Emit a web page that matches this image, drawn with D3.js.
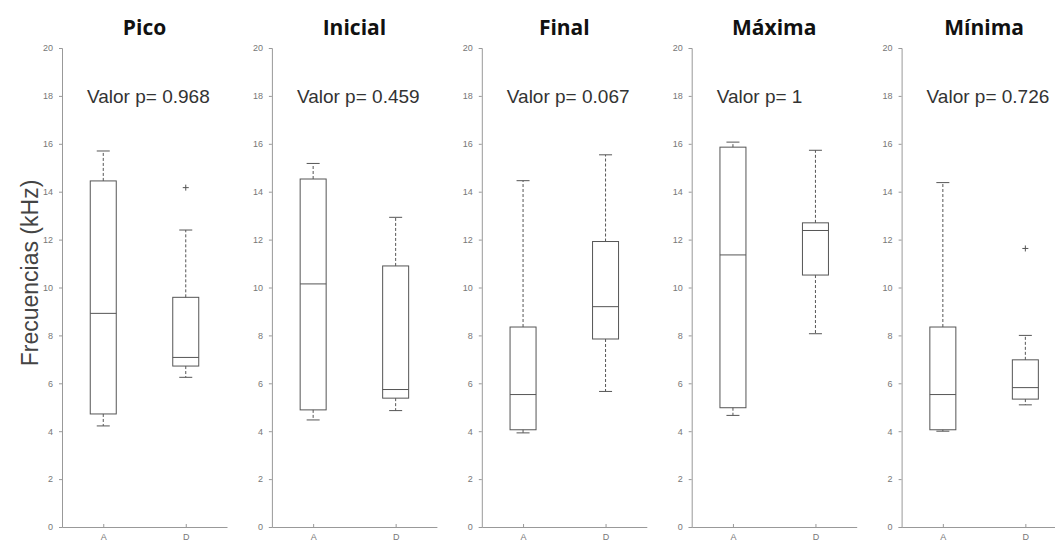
<!DOCTYPE html>
<html>
<head>
<meta charset="utf-8">
<script src="https://cdn.jsdelivr.net/npm/d3@7"></script>
<style>
  body { margin: 0; background: #fff; }
  svg { display: block; }
  .tick text { font-family: "Liberation Sans", Arial, sans-serif; fill: #777; }
</style>
</head>
<body>
<div id="chart"></div>
<script>
// Panel titles and p-value labels
const titles = ['Pico', 'Inicial', 'Final', 'Máxima', 'Mínima']
const pValues = ['0.968', '0.459', '0.067', '1', '0.726']
const groups = ['A', 'D']
const yTicks = [0, 2, 4, 6, 8, 10, 12, 14, 16, 18, 20]

// Box statistics per panel, [A, D]
const whiskerLow = [[4.22, 6.25], [4.47, 4.86], [3.93, 5.66], [4.66, 8.07], [4.0, 5.1]]
const q1 = [[4.72, 6.72], [4.89, 5.38], [4.06, 7.85], [4.98, 10.52], [4.06, 5.34]]
const median = [[8.92, 7.08], [10.15, 5.74], [5.53, 9.2], [11.36, 12.38], [5.53, 5.82]]
const q3 = [[14.45, 9.59], [14.53, 10.9], [8.35, 11.92], [15.86, 12.7], [8.35, 6.98]]
const whiskerHigh = [[15.7, 12.4], [15.18, 12.93], [14.46, 15.54], [16.07, 15.73], [14.38, 8.0]]
const outliers = [[[], [14.17]], [[], []], [[], []], [[], []], [[], [11.63]]]

const drawChart = () => {
  const width = 1055
  const height = 544
  const firstAxisX = 62
  const panelStep = 209.9
  const panelWidth = 165
  const top = 48
  const bottom = 527
  const boxWidth = 26
  const capWidth = 13
  const lineColor = '#555'

  const svg = d3.select('#chart')
    .append('svg')
    .attr('width', width)
    .attr('height', height)

  const y = d3.scaleLinear().domain([0, 20]).range([bottom, top])
  const x = d3.scalePoint().domain(groups).range([0, panelWidth]).padding(0.5)

  // Y axis label
  svg.append('text')
    .attr('transform', `translate(38, 273) rotate(-90)`)
    .attr('text-anchor', 'middle')
    .attr('font-family', '"Liberation Sans", Arial, sans-serif')
    .attr('font-size', 23)
    .attr('fill', '#444')
    .text('Frecuencias (kHz)')

  titles.forEach((title, i) => {
    const g = svg.append('g')
      .attr('transform', `translate(${firstAxisX + i * panelStep}, 0)`)

    // Left axis
    const yAxis = g.append('g')
      .call(d3.axisLeft(y).tickValues(yTicks).tickSize(3).tickPadding(6))
    yAxis.select('.domain').attr('stroke', '#999')
    yAxis.selectAll('.tick line').attr('stroke', '#999')
    yAxis.selectAll('.tick text').attr('font-size', 9)

    // Bottom axis
    const xAxis = g.append('g')
      .attr('transform', `translate(0, ${bottom})`)
      .call(d3.axisBottom(x).tickSize(-3).tickPadding(7).tickSizeOuter(0))
    xAxis.select('.domain').attr('stroke', '#999')
    xAxis.selectAll('.tick line').attr('stroke', '#999')
    xAxis.selectAll('.tick text').attr('font-size', 9)

    // Title
    g.append('text')
      .attr('x', panelWidth / 2)
      .attr('y', 35)
      .attr('text-anchor', 'middle')
      .attr('font-family', '"Open Sans", sans-serif')
      .attr('font-weight', 'bold')
      .attr('font-size', 21)
      .attr('fill', '#111')
      .text(title)

    // p-value label
    g.append('text')
      .attr('x', 25)
      .attr('y', y(18))
      .attr('dy', '0.35em')
      .attr('font-family', '"Liberation Sans", Arial, sans-serif')
      .attr('font-size', 19)
      .attr('fill', '#333')
      .text(`Valor p= ${pValues[i]}`)

    groups.forEach((grp, j) => {
      const cx = x(grp)
      const lo = whiskerLow[i][j]
      const hi = whiskerHigh[i][j]
      const b1 = q1[i][j]
      const b3 = q3[i][j]
      const md = median[i][j]

      // Whiskers
      g.append('line')
        .attr('x1', cx).attr('x2', cx)
        .attr('y1', y(b3)).attr('y2', y(hi))
        .attr('stroke', lineColor)
        .attr('stroke-dasharray', '3,2')
      g.append('line')
        .attr('x1', cx).attr('x2', cx)
        .attr('y1', y(b1)).attr('y2', y(lo))
        .attr('stroke', lineColor)
        .attr('stroke-dasharray', '3,2')

      // Caps
      ;[lo, hi].forEach(v => {
        g.append('line')
          .attr('x1', cx - capWidth / 2).attr('x2', cx + capWidth / 2)
          .attr('y1', y(v)).attr('y2', y(v))
          .attr('stroke', lineColor)
      })

      // Box
      g.append('rect')
        .attr('x', cx - boxWidth / 2)
        .attr('y', y(b3))
        .attr('width', boxWidth)
        .attr('height', y(b1) - y(b3))
        .attr('fill', 'none')
        .attr('stroke', lineColor)

      // Median
      g.append('line')
        .attr('x1', cx - boxWidth / 2).attr('x2', cx + boxWidth / 2)
        .attr('y1', y(md)).attr('y2', y(md))
        .attr('stroke', lineColor)

      // Outliers
      outliers[i][j].forEach(v => {
        g.append('path')
          .attr('d', `M${cx - 3},${y(v)}H${cx + 3}M${cx},${y(v) - 3}V${y(v) + 3}`)
          .attr('stroke', lineColor)
      })
    })
  })
}

drawChart()
</script>
</body>
</html>
